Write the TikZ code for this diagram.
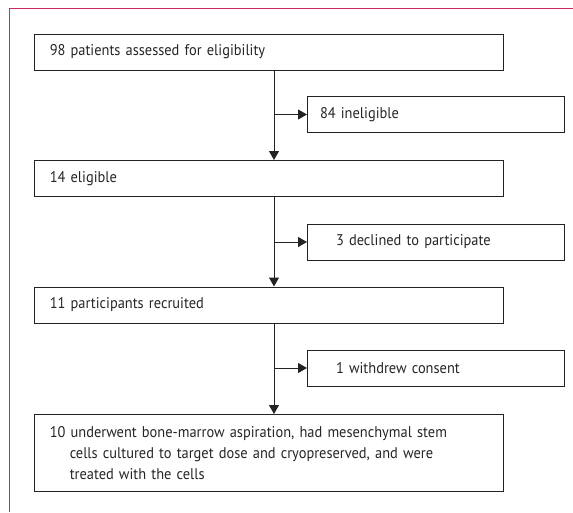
\documentclass[tikz,border=0pt]{standalone}
\usepackage{fontspec}
\setmainfont{PT Sans}[WordSpace=0.45,FakeStretch=0.93]
\usetikzlibrary{arrows.meta,positioning,calc}
\definecolor{framepink}{RGB}{205,40,95}
\definecolor{boxline}{RGB}{35,35,35}
\begin{document}
\begin{tikzpicture}[x=1pt,y=-1pt,
  every node/.style={font=\fontsize{15.5}{21}\selectfont, text=black!85},
  flowbox/.style={draw=boxline, line width=1pt, anchor=north west,
    minimum height=36pt, inner xsep=0pt, inner ysep=0pt},
  arr/.style={draw=boxline, line width=1pt, -{Triangle[length=9pt,width=10pt]}}]
\useasboundingbox (0,0) rectangle (573,512);
\draw[framepink, line width=1pt] (573,8) -- (9.5,8) -- (9.5,512);
% main boxes
\node[flowbox, minimum width=469pt, text width=457.5pt, align=left] (b1) at (33.5,33.5)
  {\hspace*{10pt}98 patients assessed for eligibility};
\node[flowbox, minimum width=469pt, text width=457.5pt, align=left] (b2) at (33.5,160)
  {\hspace*{10pt}14 eligible};
\node[flowbox, minimum width=469pt, text width=457.5pt, align=left] (b3) at (33.5,286.5)
  {\hspace*{10pt}11 participants recruited};
\node[flowbox, minimum width=469pt, minimum height=77pt, text width=457.5pt, align=left] (b4) at (33.5,414)
  {\hspace*{10pt}10 underwent bone-marrow aspiration, had mesenchymal stem\\
   \hspace*{30pt}cells cultured to target dose and cryopreserved, and were\\
   \hspace*{30pt}treated with the cells};
% side boxes
\node[flowbox, minimum width=257pt, text width=248pt, align=left] (s1) at (307,96)
  {\hspace*{8pt}84 ineligible};
\node[flowbox, minimum width=257pt, text width=237pt, align=left] (s2) at (307,223.5)
  {\hspace*{18.5pt}3 declined to participate};
\node[flowbox, minimum width=257pt, text width=237pt, align=left] (s3) at (307,349.5)
  {\hspace*{18.5pt}1 withdrew consent};
\coordinate (spine) at (274,0);
% connectors
\draw[arr] (spine |- b1.south) -- (spine |- b2.north);
\draw[arr] (spine |- b2.south) -- (spine |- b3.north);
\draw[arr] (spine |- b3.south) -- (spine |- b4.north);
\draw[arr] (spine |- s1.west) -- (s1.west);
\draw[arr] (spine |- s2.west) -- (s2.west);
\draw[arr] (spine |- s3.west) -- (s3.west);
\end{tikzpicture}
\end{document}
